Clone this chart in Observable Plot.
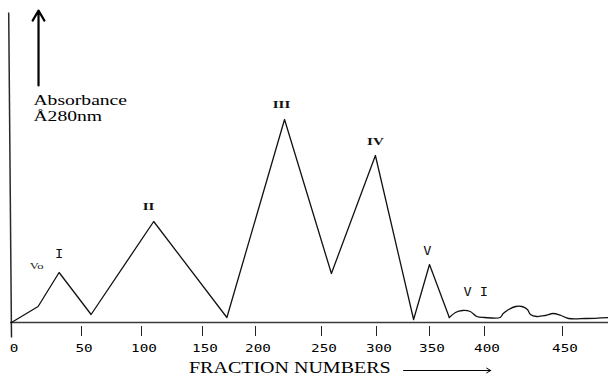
<!DOCTYPE html>
<html><head><meta charset="utf-8">
<script src="https://cdn.jsdelivr.net/npm/d3@7"></script>
<script src="https://cdn.jsdelivr.net/npm/@observablehq/plot@0.6"></script>
<style>body{margin:0;background:#fff}</style>
</head><body><div id="chart"></div>
<script>
// Fraction number tick labels (axis is unevenly spaced in the original drawing)
const fractionTicks = [0, 50, 100, 150, 200, 250, 300, 350, 400, 450];

// Main elution profile (straight segments)
const peakFraction   = [0, 19, 34, 58, 110, 173, 222, 259, 299, 335, 350, 368];
const peakAbsorbance = [0, 0.16, 0.50, 0.08, 1.01, 0.05, 2.03, 0.49, 1.67, 0.03, 0.58, 0.05];

// Wavy tail (peak VI region)
const tailFraction   = [368, 373.6, 380, 387, 393, 400, 410, 412, 415.5, 420, 424, 427.5, 429.5, 433.5, 439, 444, 449, 454, 465, 479.5];
const tailAbsorbance = [0.05, 0.10, 0.12, 0.11, 0.06, 0.05, 0.05, 0.09, 0.13, 0.16, 0.16, 0.13, 0.08, 0.06, 0.07, 0.09, 0.07, 0.04, 0.04, 0.05];

// Peak labels
const serifLabels = ["II", "III", "IV"];
const serifLabelFraction = [105.7, 219.7, 299];
const serifLabelAbsorbance = [1.16, 2.18, 1.81];
const monoLabels = ["I", "V", "V I"];
const monoLabelFraction = [34, 348, 392];
const monoLabelAbsorbance = [0.69, 0.72, 0.31];
const voidLabel = ["Vo"];

const yTitle = ["Absorbance", "Å280nm"];
const xTitle = ["FRACTION NUMBERS"];

const main = peakFraction.map((f, i) => ({f, a: peakAbsorbance[i]}));
const tail = tailFraction.map((f, i) => ({f, a: tailAbsorbance[i]}));
const serif = serifLabels.map((t, i) => ({t, f: serifLabelFraction[i], a: serifLabelAbsorbance[i]}));
const mono = monoLabels.map((t, i) => ({t, f: monoLabelFraction[i], a: monoLabelAbsorbance[i]}));

const plot = Plot.plot({
  width: 608, height: 376,
  marginTop: 12, marginBottom: 54, marginLeft: 10, marginRight: 0,
  style: {background: "#fff", overflow: "visible", color: "#000"},
  x: {type: "linear", domain: fractionTicks, range: [11, 81, 141, 202, 255, 321, 376, 429, 484, 562]},
  y: {domain: [0, 3.1], axis: null},
  marks: [
    Plot.ruleY([0], {stroke: "#3a3a3a", strokeWidth: 1.5}),
    Plot.link([0], {x1: -2, y1: 3.1, x2: 0, y2: -0.15, stroke: "#2a2a2a", strokeWidth: 1.5}),
    Plot.axisX({ticks: fractionTicks, tickSize: 10, dy: 4, label: null, tickFormat: () => "", stroke: "#222"}),
    Plot.axisX({ticks: fractionTicks, tickSize: 0, tickPadding: 18, dy: 4, dx: 2.5, label: null,
      fontFamily: "DejaVu Sans Mono", fontSize: 11, fill: "#000"}),
    Plot.line(main, {x: "f", y: "a", stroke: "#111", strokeWidth: 1.3}),
    Plot.line(tail, {x: "f", y: "a", stroke: "#111", strokeWidth: 1.3, curve: "catmull-rom"}),
    Plot.text(serif, {x: "f", y: "a", text: "t", fontFamily: "Liberation Serif", fontSize: 10, fontWeight: "bold", fill: "#111", ariaDescription: "stretch-1.5"}),
    Plot.text(mono, {x: "f", y: "a", text: "t", fontFamily: "DejaVu Sans Mono", fontSize: 13, fill: "#111", ariaDescription: "stretch-1.05"}),
    Plot.text(voidLabel, {x: 18, y: 0.56, text: d => d, fontFamily: "Liberation Serif", fontSize: 9, fill: "#222", ariaDescription: "stretch-1.4"}),
    Plot.text(yTitle, {x: 15.7, y: (d, i) => [2.215, 2.06][i], text: d => d, textAnchor: "start", fontFamily: "Liberation Serif", fontSize: 14, fill: "#000", ariaDescription: "stretch-1.4"}),
    Plot.arrow([0], {x1: 19.3, x2: 19.3, y1: 2.37, y2: 3.12, stroke: "#000", strokeWidth: 2.2, headLength: 8}),
    Plot.text(xTitle, {x: 226, y: -0.45, text: d => d, fontFamily: "Liberation Serif", fontSize: 16, fill: "#000", ariaDescription: "stretch-1.25"}),
    Plot.arrow([0], {x1: 325.5, x2: 404, y1: -0.48, y2: -0.48, stroke: "#000", strokeWidth: 1, headLength: 7})
  ]
});

function stretch(nodes, s) {
  nodes.each(function() {
    const t = this.getAttribute("transform");
    if (t) this.setAttribute("transform", t + ` scale(${s},1)`);
    else {
      const x = +this.getAttribute("x") || 0, y = +this.getAttribute("y") || 0;
      this.removeAttribute("x"); this.removeAttribute("y");
      this.setAttribute("transform", `translate(${x},${y}) scale(${s},1)`);
    }
  });
}
const root = d3.select(plot);
root.selectAll("g[aria-description^='stretch-']").each(function() {
  const s = +this.getAttribute("aria-description").slice(8);
  stretch(d3.select(this).selectAll("text"), s);
});
stretch(root.selectAll("g[aria-label='x-axis tick label'] text"), 1.3);

document.getElementById("chart").appendChild(plot);
</script>
</body></html>
